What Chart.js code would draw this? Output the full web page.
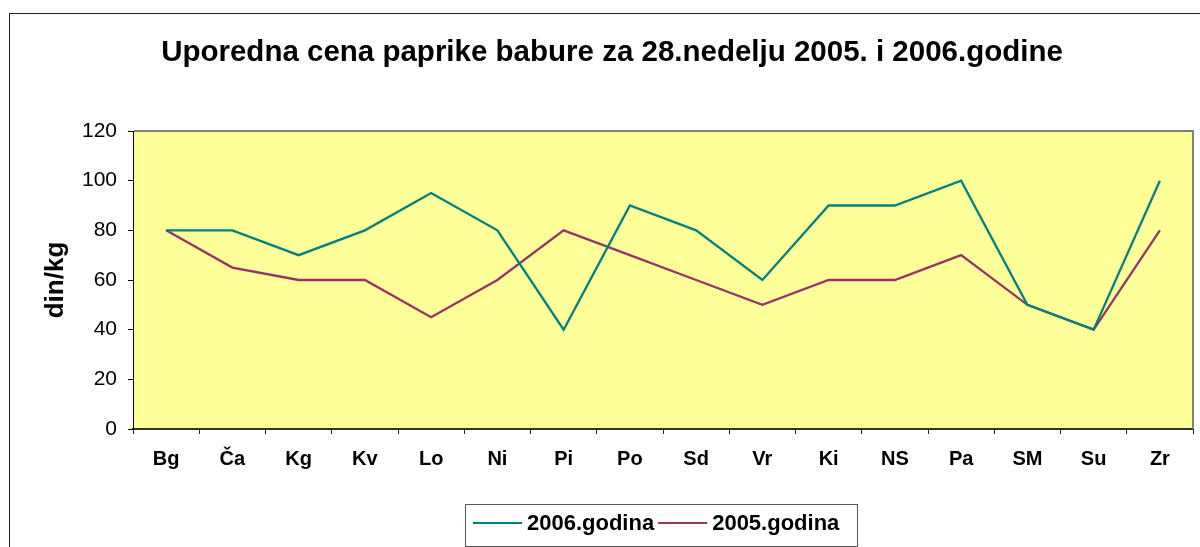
<!DOCTYPE html>
<html>
<head>
<meta charset="utf-8">
<script src="https://cdn.jsdelivr.net/npm/chart.js@4.4.1/dist/chart.umd.min.js"></script>
<style>
html,body{margin:0;padding:0;background:#fff;}
#wrap{width:1200px;height:547px;position:relative;}
</style>
</head>
<body>
<div id="wrap"><canvas id="c" width="1200" height="547"></canvas></div>
<script>
const categories = ["Bg","Ča","Kg","Kv","Lo","Ni","Pi","Po","Sd","Vr","Ki","NS","Pa","SM","Su","Zr"];
const values2006 = [80,80,70,80,95,80,40,90,80,60,90,90,100,50,40,100];
const values2005 = [80,65,60,60,45,60,80,70,60,50,60,60,70,50,40,80];
const yTicks = [0,20,40,60,80,100,120];
const titleText = "Uporedna cena paprike babure za 28.nedelju 2005. i 2006.godine";
const yTitle = "din/kg";

const FONT = "'Liberation Sans', Arial, sans-serif";

const decor = {
  id: 'decor',
  beforeDraw(chart) {
    const ctx = chart.ctx, a = chart.chartArea;
    ctx.save();
    ctx.fillStyle = '#ffffff';
    ctx.fillRect(0, 0, chart.width, chart.height);
    ctx.strokeStyle = '#222222';
    ctx.lineWidth = 1;
    ctx.strokeRect(9.5, 13.5, 1400, 800);
    ctx.fillStyle = '#FFFF99';
    ctx.fillRect(a.left, a.top, a.right - a.left, a.bottom - a.top);
    ctx.fillStyle = '#000';
    ctx.font = "bold 29.5px " + FONT;
    ctx.textAlign = 'center';
    ctx.textBaseline = 'alphabetic';
    ctx.fillText(titleText, 612, 61);
    ctx.restore();
  },
  afterDraw(chart) {
    const ctx = chart.ctx, a = chart.chartArea;
    ctx.save();
    ctx.strokeStyle = '#808080';
    ctx.lineWidth = 2;
    ctx.beginPath();
    ctx.moveTo(a.left + 1, a.top);
    ctx.lineTo(a.right, a.top);
    ctx.lineTo(a.right, a.bottom);
    ctx.stroke();
    // legend
    const bx = 465, by = 504, bw = 392, bh = 42;
    ctx.fillStyle = '#fff';
    ctx.fillRect(bx, by, bw, bh);
    ctx.strokeStyle = '#555';
    ctx.lineWidth = 1;
    ctx.strokeRect(bx + 0.5, by + 0.5, bw, bh);
    ctx.font = "bold 22px " + FONT;
    ctx.textBaseline = 'middle';
    ctx.textAlign = 'left';
    let x = 473;
    const cy = 523;
    chart.data.datasets.forEach(ds => {
      ctx.strokeStyle = ds.borderColor;
      ctx.lineWidth = 2;
      ctx.beginPath();
      ctx.moveTo(x, cy);
      ctx.lineTo(x + 49, cy);
      ctx.stroke();
      x += 54;
      ctx.fillStyle = '#000';
      ctx.fillText(ds.label, x, cy + 1);
      x += ctx.measureText(ds.label).width + 4;
    });
    ctx.restore();
  }
};

new Chart(document.getElementById('c'), {
  type: 'line',
  data: {
    labels: categories,
    datasets: [
      { label: '2006.godina', data: values2006, borderColor: '#008080', backgroundColor: '#008080', borderWidth: 2.3, pointRadius: 0, tension: 0, fill: false },
      { label: '2005.godina', data: values2005, borderColor: '#993366', backgroundColor: '#993366', borderWidth: 2.3, pointRadius: 0, tension: 0, fill: false }
    ]
  },
  options: {
    responsive: false,
    animation: false,
    devicePixelRatio: 1,
    layout: { padding: { top: 131, left: 10, right: 7, bottom: 0 } },
    plugins: { legend: { display: false }, title: { display: false }, tooltip: { enabled: false } },
    scales: {
      x: {
        offset: true,
        grid: { offset: true, drawOnChartArea: false, drawTicks: true, tickLength: 5, color: '#222', lineWidth: 1 },
        border: { display: true, color: '#333', width: 2 },
        ticks: { color: '#000', font: { family: FONT, size: 20, weight: 'bold' }, padding: 13, maxRotation: 0, autoSkip: false },
        afterFit(s) { s.height = 547 - 429; }
      },
      y: {
        min: 0, max: 120,
        afterBuildTicks(s) { s.ticks = yTicks.map(v => ({ value: v })); },
        grid: { drawOnChartArea: false, drawTicks: true, tickLength: 5, color: '#000', lineWidth: 1 },
        border: { display: true, color: '#000', width: 1 },
        ticks: { color: '#000', font: { family: FONT, size: 21 }, padding: 11 },
        title: { display: true, text: yTitle, color: '#000', font: { family: FONT, size: 26, weight: 'bold' }, padding: { top: 30, bottom: 0 } },
        afterFit(s) { s.width = 133 - 10; }
      }
    }
  },
  plugins: [decor]
});
</script>
</body>
</html>
